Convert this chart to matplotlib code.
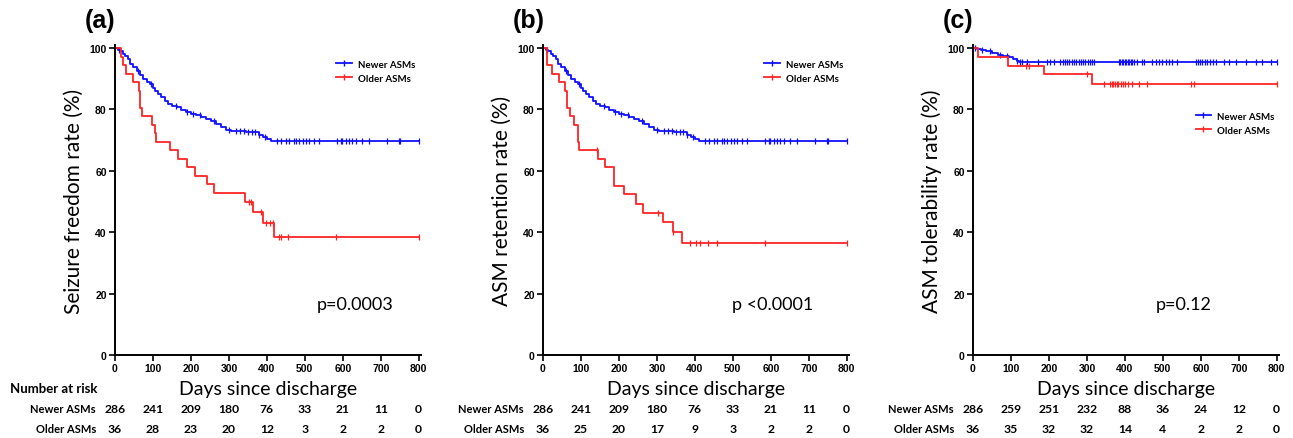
import matplotlib
matplotlib.use("Agg")
import matplotlib.pyplot as plt
import numpy as np

plt.rcParams['font.family'] = ['Lato', 'DejaVu Sans']

# ---------------- data ----------------
days_ticks = [0, 100, 200, 300, 400, 500, 600, 700, 800]

# newer ASMs, seizure freedom / retention (same curve in a and b)
newer_t = [0, 8, 13, 20, 26, 33, 39, 48, 57, 65, 74, 83, 92, 100, 105, 114, 122, 131,
           140, 150, 162, 175, 188, 200, 214, 227, 240, 253, 267, 280, 293, 306, 319,
           345, 372, 380, 389, 400, 411]
newer_s = [100, 99.3, 98.9, 98.2, 97.5, 96.3, 94.9, 93.8, 92.5, 91.2, 89.8, 89.0, 88.2,
           87.0, 86.1, 85.0, 83.9, 82.8, 81.8, 81.2, 80.7, 79.8, 79.1, 78.6, 78.1, 77.4,
           76.8, 76.1, 75.4, 74.4, 73.3, 73.1, 72.9, 72.7, 72.5, 71.8, 71.1, 70.4, 69.7]
newer_cens = [10, 60, 95, 160, 190, 205, 225, 260, 300, 320, 330, 340, 350, 360, 370,
              380, 395, 428, 437, 450, 459, 472, 477, 485, 494, 503, 511, 525, 538, 586,
              595, 599, 608, 616, 625, 634, 651, 669, 717, 747, 752, 800]

# older ASMs, seizure freedom (a)
older_a_t = [0, 17, 22, 29, 48, 64, 66, 70, 98, 105, 109, 144, 166, 190, 212, 243, 261,
             343, 363, 389, 420]
older_a_s = [100, 97.2, 94.4, 91.7, 88.9, 86.1, 80.6, 77.8, 75.0, 72.2, 69.4, 66.7, 63.9,
             61.1, 58.3, 55.6, 52.8, 50.0, 46.6, 43.1, 38.3]
older_a_cens = [354, 358, 385, 398, 407, 415, 433, 437, 456, 583, 800]

# older ASMs, retention (b)
older_b_t = [0, 11, 23, 43, 58, 62, 71, 82, 91, 96, 146, 163, 188, 214, 245, 264, 317,
             343, 365]
older_b_s = [100, 94.4, 91.7, 88.9, 86.1, 80.6, 77.8, 75.0, 69.4, 66.7, 63.9, 61.1, 55.2,
             52.3, 49.3, 46.4, 43.3, 40.2, 36.6]
older_b_cens = [141, 303, 343, 387, 402, 413, 435, 457, 584, 800]

# tolerability (c)
newer_c_t = [0, 10, 20, 35, 50, 65, 80, 95, 105, 115, 122]
newer_c_s = [100, 99.6, 99.3, 98.9, 98.4, 97.9, 97.5, 97.0, 96.4, 95.8, 95.3]
newer_c_cens = [5, 25, 45, 70, 90, 117, 125, 130, 143, 170, 196, 204, 214, 230, 236, 242,
                248, 254, 260, 266, 272, 278, 284, 290, 296, 302, 308, 314, 320, 384, 388,
                392, 396, 400, 404, 408, 412, 416, 420, 424, 432, 445, 450, 471, 482, 490,
                498, 508, 516, 524, 537, 587, 592, 597, 603, 610, 617, 624, 631, 639, 660,
                673, 694, 718, 746, 760, 786, 800]
older_c_t = [0, 13, 92, 188, 314]
older_c_s = [100, 97.2, 94.3, 91.4, 88.4]
older_c_cens = [140, 148, 301, 345, 362, 366, 370, 374, 378, 382, 390, 394, 400, 408, 420,
                436, 458, 573, 583, 800]

risk_a = ([286, 241, 209, 180, 76, 33, 21, 11, 0], [36, 28, 23, 20, 12, 3, 2, 2, 0])
risk_b = ([286, 241, 209, 180, 76, 33, 21, 11, 0], [36, 25, 20, 17, 9, 3, 2, 2, 0])
risk_c = ([286, 259, 251, 232, 88, 36, 24, 12, 0], [36, 35, 32, 32, 14, 4, 2, 2, 0])

panels = [
    dict(tag="(a)", ylabel="Seizure freedom rate (%)", p="p=0.0003", px=0.785,
         newer=(newer_t, newer_s, newer_cens), older=(older_a_t, older_a_s, older_a_cens),
         risk=risk_a, left=115, leg=(0.71, 0.965), title_risk=True),
    dict(tag="(b)", ylabel="ASM retention rate (%)", p="p <0.0001", px=0.75,
         newer=(newer_t, newer_s, newer_cens), older=(older_b_t, older_b_s, older_b_cens),
         risk=risk_b, left=543, leg=(0.71, 0.965), title_risk=False),
    dict(tag="(c)", ylabel="ASM tolerability rate (%)", p="p=0.12", px=0.69,
         newer=(newer_c_t, newer_c_s, newer_c_cens), older=(older_c_t, older_c_s, older_c_cens),
         risk=risk_c, left=973, leg=(0.715, 0.797), title_risk=False),
]

W, H = 1293, 439
fig = plt.figure(figsize=(W / 100, H / 100), dpi=100)

BLUE = "#1010ff"
RED = "#ff2424"


def km(ax, t, s, cens, color, label):
    t = np.append(t, 800)
    s = np.append(s, s[-1])
    ax.step(t, s, where="post", color=color, lw=1.3, label=label,
            marker="|", markevery=[], ms=5)
    idx = np.searchsorted(t, cens, side="right") - 1
    ax.plot(cens, s[idx], ls="none", marker="|", ms=4, mew=0.9, color=color)


for p in panels:
    ax = fig.add_axes([p["left"] / W, (H - 356) / H, 306 / W, 310 / H])
    km(ax, *p["newer"], BLUE, "Newer ASMs")
    km(ax, *p["older"], RED, "Older ASMs")
    ax.set_xlim(0, 806)
    ax.set_ylim(0, 101)
    ax.set_xticks(days_ticks)
    ax.set_yticks([0, 20, 40, 60, 80, 100])
    for sp in ["top", "right"]:
        ax.spines[sp].set_visible(False)
    for sp in ["left", "bottom"]:
        ax.spines[sp].set_linewidth(1.4)
    ax.tick_params(length=4, width=1.2, pad=2)
    for lab in ax.get_xticklabels() + ax.get_yticklabels():
        lab.set_fontfamily("Liberation Sans")
        lab.set_fontweight("bold")
        lab.set_fontsize(7.5)
    ax.set_ylabel(p["ylabel"], fontsize=15, labelpad=4)
    ax.set_xlabel("Days since discharge", fontsize=14, labelpad=5)
    ax.text(p["px"], 0.165, p["p"], transform=ax.transAxes, ha="center", va="center",
            fontsize=13)
    ax.legend(loc="upper left", bbox_to_anchor=p["leg"], frameon=False, handlelength=1.6,
              numpoints=1, prop=dict(weight="bold", size=7), borderaxespad=0,
              labelspacing=0.5, handletextpad=0.6)
    fig.text((p["left"] - 30) / W, 1 - 21 / H, p["tag"], fontsize=18, fontweight="bold",
             family="Liberation Sans", ha="left", va="center")

    # number at risk table
    trans = ax.get_xaxis_transform()
    for row, (name, y) in enumerate([("Newer ASMs", 410), ("Older ASMs", 430)]):
        fig.text((p["left"] - 19) / W, 1 - y / H, name, fontsize=8, fontweight="bold",
                 ha="right", va="center")
        for d, n in zip(days_ticks, p["risk"][row]):
            ax.text(d, -(y - 356) / 310, str(n), transform=trans, ha="center",
                    va="center", fontsize=8.7, fontweight="bold")
    if p["title_risk"]:
        fig.text(10 / W, 1 - 389 / H, "Number at risk", fontsize=9.5, fontweight="bold",
                 ha="left", va="center")

fig.savefig("out.png", dpi=100)
